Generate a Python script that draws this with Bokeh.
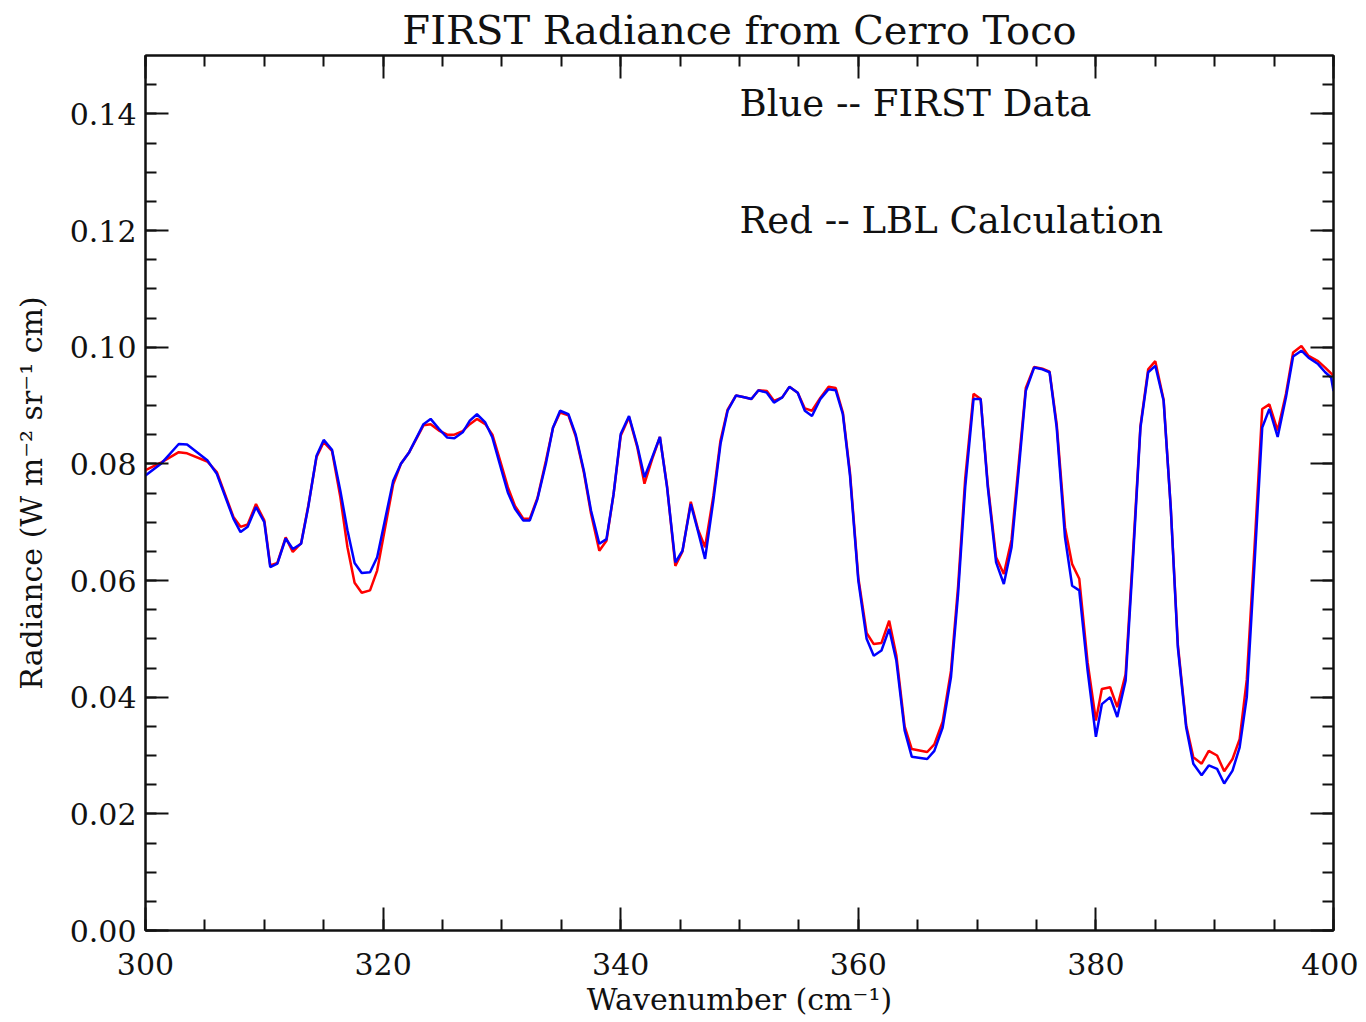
from bokeh.plotting import figure
from bokeh.models import Range1d, LinearAxis, SingleIntervalTicker, NumeralTickFormatter, Label, CustomJSTickFormatter
from bokeh.embed import file_html
from bokeh.resources import INLINE

# ---- data ----
wavenumber = [300.0, 301.3, 302.8, 303.5, 305.2, 306.0, 307.4, 308.0, 308.6, 309.3,
              310.0, 310.5, 311.1, 311.8, 312.4, 313.1, 313.7, 314.4, 315.0, 315.7,
              316.4, 317.0, 317.6, 318.2, 318.9, 319.5, 320.85, 321.5, 322.2, 323.4,
              324.0, 324.7, 325.4, 326.0, 326.7, 327.3, 327.9, 328.6, 329.2, 329.9,
              330.5, 331.1, 331.8, 332.35, 333.0, 333.7, 334.3, 334.9, 335.6, 336.2,
              336.9, 337.5, 338.2, 338.8, 339.4, 340.0, 340.7, 341.4, 342.0, 342.65,
              343.3, 343.9, 344.6, 345.2, 345.9, 346.5, 347.1, 347.8, 348.4, 349.0,
              349.7, 350.4, 351.0, 351.6, 352.3, 352.9, 353.6, 354.2, 354.9, 355.5,
              356.1, 356.8, 357.5, 358.1, 358.7, 359.3, 360.0, 360.7, 361.3, 361.95,
              362.6, 363.2, 363.9, 364.5, 365.8, 366.4, 367.1, 367.8, 368.4, 369.0,
              369.7, 370.3, 370.9, 371.6, 372.25, 372.9, 373.5, 374.1, 374.8, 375.5,
              376.1, 376.7, 377.4, 378.0, 378.6, 379.3, 380.0, 380.5, 381.2, 381.8,
              382.5, 383.1, 383.75, 384.4, 385.0, 385.7, 386.3, 386.9, 387.6, 388.2,
              388.9, 389.5, 390.2, 390.8, 391.5, 392.1, 392.7, 393.35, 394.0, 394.6,
              395.3, 396.0, 396.6, 397.3, 397.9, 398.7, 399.3, 399.8, 400.0]

first_data = [0.0780, 0.0800, 0.0834, 0.0833, 0.0806, 0.0783, 0.0706, 0.0683, 0.0692, 0.0726,
              0.0700, 0.0623, 0.0629, 0.0672, 0.0654, 0.0663, 0.0726, 0.0814, 0.0841, 0.0824,
              0.0754, 0.0686, 0.0630, 0.0613, 0.0614, 0.0640, 0.0771, 0.0800, 0.0820, 0.0868,
              0.0877, 0.0860, 0.0845, 0.0844, 0.0854, 0.0874, 0.0885, 0.0871, 0.0845, 0.0794,
              0.0751, 0.0723, 0.0703, 0.0703, 0.0740, 0.0800, 0.0862, 0.0891, 0.0885, 0.0851,
              0.0788, 0.0720, 0.0663, 0.0671, 0.0748, 0.0851, 0.0882, 0.0831, 0.0777, 0.0811,
              0.0846, 0.0760, 0.0631, 0.0651, 0.0731, 0.0685, 0.0637, 0.0737, 0.0834, 0.0891,
              0.0917, 0.0914, 0.0911, 0.0926, 0.0922, 0.0905, 0.0914, 0.0932, 0.0922, 0.0891,
              0.0882, 0.0911, 0.0928, 0.0926, 0.0885, 0.0780, 0.0600, 0.0500, 0.0471, 0.0480,
              0.0517, 0.0463, 0.0343, 0.0298, 0.0294, 0.0308, 0.0348, 0.0434, 0.0577, 0.0760,
              0.0911, 0.0911, 0.0760, 0.0631, 0.0594, 0.0657, 0.0788, 0.0925, 0.0965, 0.0962,
              0.0957, 0.0862, 0.0674, 0.0591, 0.0583, 0.0446, 0.0332, 0.0388, 0.0400, 0.0366,
              0.0428, 0.0628, 0.0862, 0.0957, 0.0968, 0.0908, 0.0725, 0.0485, 0.0348, 0.0286,
              0.0266, 0.0283, 0.0277, 0.0252, 0.0274, 0.0314, 0.0400, 0.0628, 0.0862, 0.0894,
              0.0846, 0.0914, 0.0984, 0.0994, 0.0982, 0.0971, 0.0957, 0.0948, 0.0925]

lbl_calc = [0.0789, 0.0802, 0.0820, 0.0818, 0.0804, 0.0786, 0.0709, 0.0692, 0.0696, 0.0731,
            0.0703, 0.0626, 0.0630, 0.0674, 0.0649, 0.0664, 0.0728, 0.0812, 0.0837, 0.0822,
            0.0743, 0.0657, 0.0596, 0.0579, 0.0583, 0.0617, 0.0765, 0.0800, 0.0820, 0.0866,
            0.0868, 0.0857, 0.0850, 0.0850, 0.0856, 0.0868, 0.0877, 0.0868, 0.0850, 0.0802,
            0.0760, 0.0728, 0.0706, 0.0706, 0.0742, 0.0805, 0.0862, 0.0888, 0.0883, 0.0848,
            0.0785, 0.0715, 0.0651, 0.0668, 0.0748, 0.0848, 0.0880, 0.0828, 0.0766, 0.0808,
            0.0846, 0.0762, 0.0625, 0.0650, 0.0735, 0.0688, 0.0657, 0.0745, 0.0840, 0.0893,
            0.0917, 0.0914, 0.0911, 0.0926, 0.0925, 0.0908, 0.0914, 0.0932, 0.0922, 0.0895,
            0.0891, 0.0913, 0.0932, 0.0930, 0.0888, 0.0785, 0.0605, 0.0510, 0.0491, 0.0493,
            0.0531, 0.0472, 0.0350, 0.0311, 0.0306, 0.0319, 0.0358, 0.0445, 0.0590, 0.0775,
            0.0920, 0.0911, 0.0765, 0.0640, 0.0611, 0.0670, 0.0800, 0.0930, 0.0966, 0.0963,
            0.0958, 0.0868, 0.0691, 0.0628, 0.0603, 0.0460, 0.0360, 0.0414, 0.0417, 0.0383,
            0.0439, 0.0640, 0.0865, 0.0962, 0.0976, 0.0910, 0.0725, 0.0490, 0.0352, 0.0297,
            0.0286, 0.0308, 0.0300, 0.0273, 0.0294, 0.0328, 0.0430, 0.0656, 0.0894, 0.0902,
            0.0857, 0.0920, 0.0991, 0.1002, 0.0985, 0.0976, 0.0965, 0.0955, 0.0951]

title_text = "FIRST Radiance from Cerro Toco"
x_label = "Wavenumber (cm\u207b\u00b9)"
y_label = "Radiance (W m\u207b\u00b2 sr\u207b\u00b9 cm)"
legend_blue = "Blue -- FIRST Data"
legend_red = "Red -- LBL Calculation"

FONT = "DejaVu Serif"
INK = "#111111"

p = figure(width=1358, height=1019, output_backend="svg", toolbar_location=None,
           x_range=Range1d(300, 400), y_range=Range1d(0, 0.15),
           min_border_left=145, min_border_right=25, min_border_top=55, min_border_bottom=89,
           x_axis_location=None, y_axis_location=None)

p.title.text = title_text
p.title.align = "center"
p.title.text_font = FONT
p.title.text_font_size = "40px"
p.title.text_font_style = "normal"
p.title.text_color = INK
p.title.standoff = 6

p.xgrid.visible = False
p.ygrid.visible = False
p.outline_line_color = INK
p.outline_line_width = 2
p.background_fill_color = "white"
p.border_fill_color = "white"


def styled_axis(ticker, show_labels, formatter=None, label=None):
    ax = LinearAxis(ticker=ticker)
    if formatter is not None:
        ax.formatter = formatter
    ax.axis_line_color = INK
    ax.axis_line_width = 2
    ax.major_tick_line_color = INK
    ax.major_tick_line_width = 2
    ax.minor_tick_line_color = INK
    ax.minor_tick_line_width = 2
    ax.major_tick_in = 23
    ax.major_tick_out = 0
    ax.minor_tick_in = 11
    ax.minor_tick_out = 0
    if show_labels:
        ax.major_label_text_font = FONT
        ax.major_label_text_font_size = "30px"
        ax.major_label_text_color = INK
    else:
        ax.formatter = CustomJSTickFormatter(code="return ''")
        ax.major_label_standoff = 0
    if label is not None:
        ax.axis_label = label
        ax.axis_label_text_font = FONT
        ax.axis_label_text_font_size = "30px"
        ax.axis_label_text_font_style = "normal"
        ax.axis_label_text_color = INK
    return ax


xt = lambda: SingleIntervalTicker(interval=20, num_minor_ticks=4)
yt = lambda: SingleIntervalTicker(interval=0.02, num_minor_ticks=4)

bottom = styled_axis(xt(), True, label=x_label)
bottom.major_label_standoff = 22
bottom.axis_label_standoff = 4
left = styled_axis(yt(), True, formatter=NumeralTickFormatter(format="0.00"), label=y_label)
left.major_label_standoff = 9
left.axis_label_standoff = 18
top = styled_axis(xt(), False)
right = styled_axis(yt(), False)

p.add_layout(bottom, "below")
p.add_layout(left, "left")
p.add_layout(top, "above")
p.add_layout(right, "right")

p.line(wavenumber, lbl_calc, line_color="#ff0000", line_width=2.5)
p.line(wavenumber, first_data, line_color="#0000ff", line_width=2.5)

for txt, yv in [(legend_blue, 0.1417), (legend_red, 0.1217)]:
    p.add_layout(Label(x=350.0, y=yv, text=txt, text_font=FONT, text_font_size="37px",
                       text_color=INK, text_baseline="middle", text_align="left"))

open("out.html", "w").write(file_html(p, INLINE))
